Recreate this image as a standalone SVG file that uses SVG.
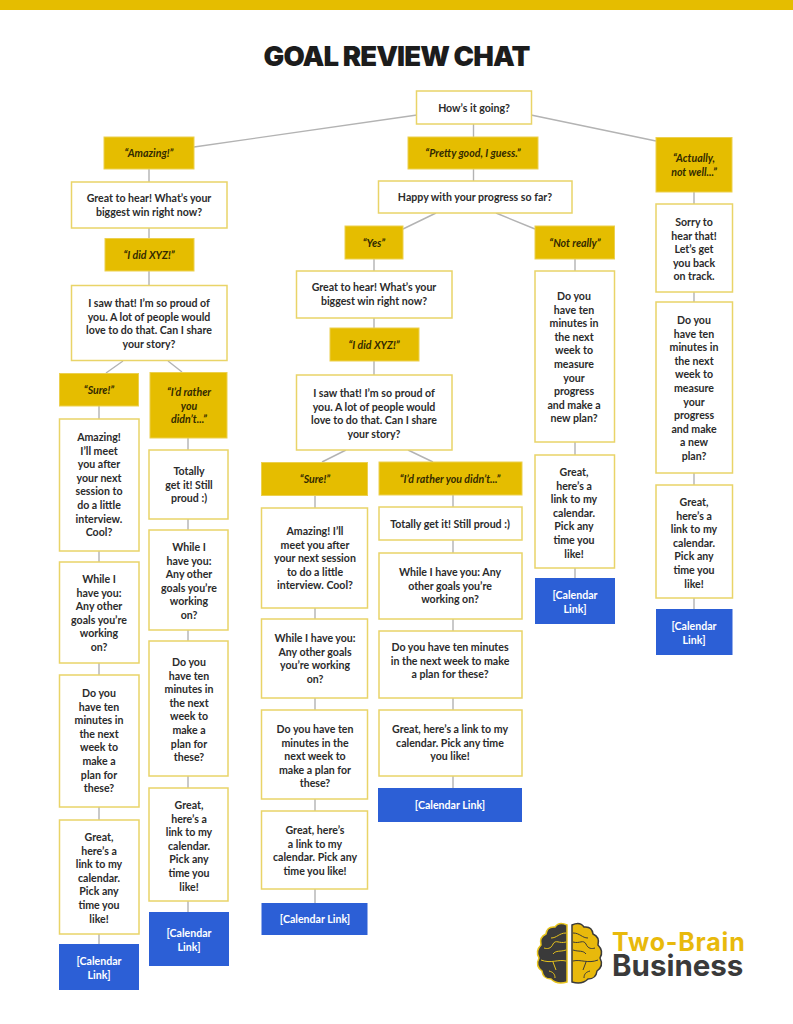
<svg xmlns="http://www.w3.org/2000/svg" width="793" height="1024" viewBox="0 0 793 1024">
<style>
.c{stroke:#b3b3b3;stroke-width:1.4;fill:none}
.w{fill:#fff;stroke:#e9d468;stroke-width:1.5}
.y{fill:#e5bd00;stroke:#ecd04f;stroke-width:1}
.b{fill:#2c5fd6;stroke:none}
text{font-family:"Lato","Liberation Sans",sans-serif;font-weight:700;font-size:10.6px;text-anchor:middle;fill:#2b2b2b}
.y+text{font-style:italic;fill:#332a00}
.b+text{fill:#fff}
</style>
<rect width="793" height="10" fill="#e5bd00"/>
<text x="396.500" y="66" style="font-family:Inter,'Liberation Sans',sans-serif;font-size:27.5px;font-weight:900;fill:#1c1c1c;letter-spacing:-.9px">GOAL REVIEW CHAT</text>
<g id="connectors">
<path class="c" d="M417 115 194 147M531 115 656 141M473.500 124V137M473.500 169V181M149 169V182M149 228V238M149 271V285M123 361 106 373M168 361 182 372M99 406V419M99 551V562M99 663V675M99 807V820M99 934V944M188 438V450M188 519V530M188 630V641M188 776V788M188 901V912"/>
<path class="c" d="M436 213 403 229M496 213 535 229M374 259V271M374 318V328M374 361V375M346 450 322 462M408 450 433 462M315 495V508M315 608V619M315 698V710M315 799V811M315 889V903M453 495V507M453 540V553M453 619V631M453 698V710M453 776V788M575 259V271M575 442V455M575 568V578M694 192V204M694 292V302M694 473V485M694 598V609"/>
</g>
<g id="n1"><rect class="w" x="416.500" y="91" width="115" height="33"/><text x="474" y="112">How’s it going?</text></g>
<g id="n2"><rect class="y" x="104" y="137" width="90" height="32"/><text x="149" y="157">“Amazing!”</text></g>
<g id="n3"><rect class="y" x="408" y="137" width="130" height="32"/><text x="473" y="157">“Pretty good, I guess.”</text></g>
<g id="n4"><rect class="y" x="656" y="137.500" width="76" height="54.500"/><text x="694" y="162">“Actually,<tspan x="694" dy="13.600">not well...”</tspan></text></g>
<g id="n5"><rect class="w" x="71.500" y="182" width="155.500" height="46"/><text x="149" y="202">Great to hear! What’s your<tspan x="149" dy="13.600">biggest win right now?</tspan></text></g>
<g id="n6"><rect class="y" x="105" y="238.500" width="89" height="32.500"/><text x="149" y="259">“I did XYZ!”</text></g>
<g id="n7"><rect class="w" x="71.500" y="285.500" width="155.500" height="75"/><text x="149" y="307">I saw that! I’m so proud of<tspan x="149" dy="13.500">you. A lot of people would</tspan><tspan x="149" dy="13.500">love to do that. Can I share</tspan><tspan x="149" dy="13.500">your story?</tspan></text></g>
<g id="n8"><rect class="y" x="59.500" y="373.500" width="79" height="32.500"/><text x="99" y="394">“Sure!”</text></g>
<g id="n9"><rect class="y" x="150" y="372.500" width="77" height="65.500"/><text x="189" y="396">“I’d rather<tspan x="189" dy="13.600">you</tspan><tspan x="189" dy="13.600">didn’t...”</tspan></text></g>
<g id="n10"><rect class="w" x="59.500" y="419" width="79.500" height="132"/><text x="99" y="441">Amazing!<tspan x="99" dy="13.600">I’ll meet</tspan><tspan x="99" dy="13.600">you after</tspan><tspan x="99" dy="13.600">your next</tspan><tspan x="99" dy="13.600">session to</tspan><tspan x="99" dy="13.600">do a little</tspan><tspan x="99" dy="13.600">interview.</tspan><tspan x="99" dy="13.600">Cool?</tspan></text></g>
<g id="n11"><rect class="w" x="59.500" y="562" width="79.500" height="101"/><text x="99" y="583">While I<tspan x="99" dy="13.600">have you:</tspan><tspan x="99" dy="13.600">Any other</tspan><tspan x="99" dy="13.600">goals you’re</tspan><tspan x="99" dy="13.600">working</tspan><tspan x="99" dy="13.600">on?</tspan></text></g>
<g id="n12"><rect class="w" x="59.500" y="675" width="79.500" height="132"/><text x="99" y="697">Do you<tspan x="99" dy="13.600">have ten</tspan><tspan x="99" dy="13.600">minutes in</tspan><tspan x="99" dy="13.600">the next</tspan><tspan x="99" dy="13.600">week to</tspan><tspan x="99" dy="13.600">make a</tspan><tspan x="99" dy="13.600">plan for</tspan><tspan x="99" dy="13.600">these?</tspan></text></g>
<g id="n13"><rect class="w" x="59.500" y="820" width="79.500" height="114"/><text x="99" y="841">Great,<tspan x="99" dy="13.600">here’s a</tspan><tspan x="99" dy="13.600">link to my</tspan><tspan x="99" dy="13.600">calendar.</tspan><tspan x="99" dy="13.600">Pick any</tspan><tspan x="99" dy="13.600">time you</tspan><tspan x="99" dy="13.600">like!</tspan></text></g>
<g id="n14"><rect class="b" x="59" y="944" width="80" height="46"/><text x="99" y="965">[Calendar<tspan x="99" dy="13.600">Link]</tspan></text></g>
<g id="n15"><rect class="w" x="149" y="450" width="79" height="69"/><text x="189" y="475">Totally<tspan x="189" dy="13.600">get it! Still</tspan><tspan x="189" dy="13.600">proud :)</tspan></text></g>
<g id="n16"><rect class="w" x="149" y="530" width="79" height="100"/><text x="189" y="551">While I<tspan x="189" dy="13.600">have you:</tspan><tspan x="189" dy="13.600">Any other</tspan><tspan x="189" dy="13.600">goals you’re</tspan><tspan x="189" dy="13.600">working</tspan><tspan x="189" dy="13.600">on?</tspan></text></g>
<g id="n17"><rect class="w" x="149" y="641" width="79" height="135"/><text x="189" y="666">Do you<tspan x="189" dy="13.600">have ten</tspan><tspan x="189" dy="13.600">minutes in</tspan><tspan x="189" dy="13.600">the next</tspan><tspan x="189" dy="13.600">week to</tspan><tspan x="189" dy="13.600">make a</tspan><tspan x="189" dy="13.600">plan for</tspan><tspan x="189" dy="13.600">these?</tspan></text></g>
<g id="n18"><rect class="w" x="149" y="788" width="79" height="113"/><text x="189" y="809">Great,<tspan x="189" dy="13.600">here’s a</tspan><tspan x="189" dy="13.600">link to my</tspan><tspan x="189" dy="13.600">calendar.</tspan><tspan x="189" dy="13.600">Pick any</tspan><tspan x="189" dy="13.600">time you</tspan><tspan x="189" dy="13.600">like!</tspan></text></g>
<g id="n19"><rect class="b" x="149" y="912" width="80" height="54"/><text x="189" y="937">[Calendar<tspan x="189" dy="13.600">Link]</tspan></text></g>
<g id="n20"><rect class="w" x="378.500" y="181" width="193.500" height="32"/><text x="475" y="201">Happy with your progress so far?</text></g>
<g id="n21"><rect class="y" x="345" y="226" width="58" height="33"/><text x="374" y="247">“Yes”</text></g>
<g id="n22"><rect class="y" x="535" y="226" width="79.500" height="33"/><text x="575" y="247">“Not really”</text></g>
<g id="n23"><rect class="w" x="296.500" y="271" width="155.500" height="47"/><text x="374" y="291">Great to hear! What’s your<tspan x="374" dy="13.600">biggest win right now?</tspan></text></g>
<g id="n24"><rect class="y" x="330" y="328" width="89" height="33"/><text x="374" y="349">“I did XYZ!”</text></g>
<g id="n25"><rect class="w" x="296.500" y="375" width="155.500" height="75"/><text x="374" y="397">I saw that! I’m so proud of<tspan x="374" dy="13.500">you. A lot of people would</tspan><tspan x="374" dy="13.500">love to do that. Can I share</tspan><tspan x="374" dy="13.500">your story?</tspan></text></g>
<g id="n26"><rect class="y" x="261.500" y="462.500" width="106" height="33"/><text x="315" y="483">“Sure!”</text></g>
<g id="n27"><rect class="y" x="379" y="462" width="143" height="33"/><text x="450" y="483">“I’d rather you didn’t...”</text></g>
<g id="n28"><rect class="w" x="261.500" y="508" width="106" height="100"/><text x="315" y="535">Amazing! I’ll<tspan x="315" dy="13.600">meet you after</tspan><tspan x="315" dy="13.600">your next session</tspan><tspan x="315" dy="13.600">to do a little</tspan><tspan x="315" dy="13.600">interview. Cool?</tspan></text></g>
<g id="n29"><rect class="w" x="261.500" y="619" width="106" height="79"/><text x="315" y="642">While I have you:<tspan x="315" dy="13.600">Any other goals</tspan><tspan x="315" dy="13.600">you’re working</tspan><tspan x="315" dy="13.600">on?</tspan></text></g>
<g id="n30"><rect class="w" x="261.500" y="710" width="106" height="89"/><text x="315" y="733">Do you have ten<tspan x="315" dy="13.600">minutes in the</tspan><tspan x="315" dy="13.600">next week to</tspan><tspan x="315" dy="13.600">make a plan for</tspan><tspan x="315" dy="13.600">these?</tspan></text></g>
<g id="n31"><rect class="w" x="261.500" y="811" width="106" height="78"/><text x="315" y="834">Great, here’s<tspan x="315" dy="13.600">a link to my</tspan><tspan x="315" dy="13.600">calendar. Pick any</tspan><tspan x="315" dy="13.600">time you like!</tspan></text></g>
<g id="n32"><rect class="b" x="261.500" y="903" width="106" height="32"/><text x="315" y="923">[Calendar Link]</text></g>
<g id="n33"><rect class="w" x="379" y="507" width="143" height="33"/><text x="450" y="528">Totally get it! Still proud :)</text></g>
<g id="n34"><rect class="w" x="379" y="553" width="143" height="66"/><text x="450" y="576">While I have you: Any<tspan x="450" dy="13.600">other goals you’re</tspan><tspan x="450" dy="13.600">working on?</tspan></text></g>
<g id="n35"><rect class="w" x="379" y="631" width="143" height="67"/><text x="450" y="651">Do you have ten minutes<tspan x="450" dy="13.600">in the next week to make</tspan><tspan x="450" dy="13.600">a plan for these?</tspan></text></g>
<g id="n36"><rect class="w" x="379" y="710" width="143" height="66"/><text x="450" y="733">Great, here’s a link to my<tspan x="450" dy="13.600">calendar. Pick any time</tspan><tspan x="450" dy="13.600">you like!</tspan></text></g>
<g id="n37"><rect class="b" x="378" y="788" width="144" height="34"/><text x="450" y="809">[Calendar Link]</text></g>
<g id="n38"><rect class="w" x="535" y="271" width="79.500" height="171"/><text x="574" y="300">Do you<tspan x="574" dy="13.600">have ten</tspan><tspan x="574" dy="13.600">minutes in</tspan><tspan x="574" dy="13.600">the next</tspan><tspan x="574" dy="13.600">week to</tspan><tspan x="574" dy="13.600">measure</tspan><tspan x="574" dy="13.600">your</tspan><tspan x="574" dy="13.600">progress</tspan><tspan x="574" dy="13.600">and make a</tspan><tspan x="574" dy="13.600">new plan?</tspan></text></g>
<g id="n39"><rect class="w" x="535" y="455" width="79.500" height="113"/><text x="574" y="476">Great,<tspan x="574" dy="13.600">here’s a</tspan><tspan x="574" dy="13.600">link to my</tspan><tspan x="574" dy="13.600">calendar.</tspan><tspan x="574" dy="13.600">Pick any</tspan><tspan x="574" dy="13.600">time you</tspan><tspan x="574" dy="13.600">like!</tspan></text></g>
<g id="n40"><rect class="b" x="535" y="578" width="80" height="46"/><text x="575" y="599">[Calendar<tspan x="575" dy="13.600">Link]</tspan></text></g>
<g id="n41"><rect class="w" x="656" y="204" width="76.500" height="88"/><text x="694" y="226">Sorry to<tspan x="694" dy="13.600">hear that!</tspan><tspan x="694" dy="13.600">Let’s get</tspan><tspan x="694" dy="13.600">you back</tspan><tspan x="694" dy="13.600">on track.</tspan></text></g>
<g id="n42"><rect class="w" x="656" y="302" width="76.500" height="171"/><text x="694" y="324">Do you<tspan x="694" dy="13.600">have ten</tspan><tspan x="694" dy="13.600">minutes in</tspan><tspan x="694" dy="13.600">the next</tspan><tspan x="694" dy="13.600">week to</tspan><tspan x="694" dy="13.600">measure</tspan><tspan x="694" dy="13.600">your</tspan><tspan x="694" dy="13.600">progress</tspan><tspan x="694" dy="13.600">and make</tspan><tspan x="694" dy="13.600">a new</tspan><tspan x="694" dy="13.600">plan?</tspan></text></g>
<g id="n43"><rect class="w" x="656" y="485" width="76.500" height="113"/><text x="694" y="506">Great,<tspan x="694" dy="13.600">here’s a</tspan><tspan x="694" dy="13.600">link to my</tspan><tspan x="694" dy="13.600">calendar.</tspan><tspan x="694" dy="13.600">Pick any</tspan><tspan x="694" dy="13.600">time you</tspan><tspan x="694" dy="13.600">like!</tspan></text></g>
<g id="n44"><rect class="b" x="656" y="609" width="76.500" height="46"/><text x="694" y="630">[Calendar<tspan x="694" dy="13.600">Link]</tspan></text></g>
<g id="logo">
<path d="M567 925Q559 921 555 927 547 926 546 934 539 937 541 945 535 951 539 958 535 966 542 971 543 979 551 979 557 985 567 982Z" fill="#3a3a3a" stroke="#e8c41c" stroke-width="1.500"/>
<path d="M572 925Q580 921 584 927 592 926 593 934 600 937 598 945 604 951 600 958 604 966 597 971 596 979 588 979 582 985 572 982Z" fill="#e8b90c" stroke="#3a3a3a" stroke-width="1.500"/>
<path d="M566 933C559 933 557 938 551 938M566 942C559 944 556 939 553 944 551 949 547 949 544 948M566 950C560 952 556 950 553 954M566 961C558 959 551 964 541 960M553 962 556 970M549 971C553 972 555 974 555 978" fill="none" stroke="#e8c41c" stroke-width="1"/>
<path d="M573 933C580 933 582 938 588 938M573 942C580 944 583 939 586 944 588 949 592 949 595 948M573 950C579 952 583 950 586 954M573 961C581 959 588 964 598 960M586 962 583 970M590 971C586 972 584 974 584 978" fill="none" stroke="#3a3a3a" stroke-width="1"/>
<text x="612" y="951" style="font-family:Inter,'Liberation Sans',sans-serif;font-size:25px;font-weight:700;text-anchor:start;fill:#e8b90c;letter-spacing:.8px">Two-Brain</text>
<text x="612" y="976" style="font-family:Inter,'Liberation Sans',sans-serif;font-size:29.500px;font-weight:700;text-anchor:start;fill:#3a3a3a">Business</text>
</g>
</svg>
